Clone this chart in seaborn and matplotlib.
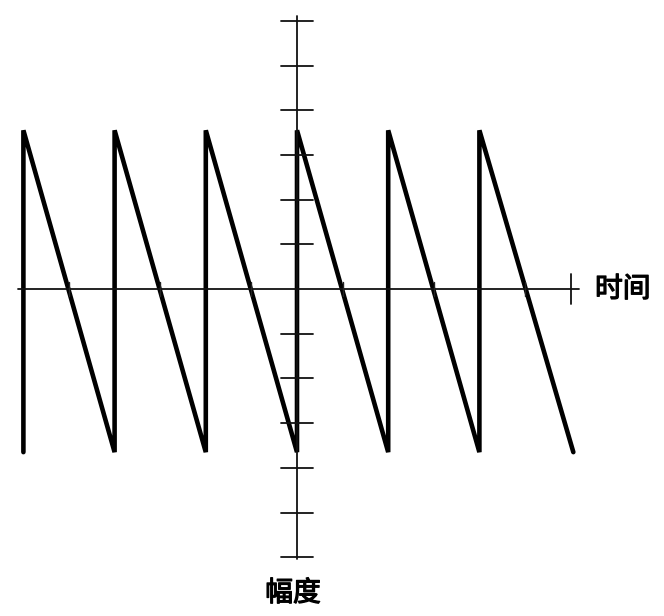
import matplotlib
matplotlib.use("Agg")
import matplotlib.pyplot as plt
import matplotlib.patheffects as pe
import seaborn as sns
import pandas as pd

# Sawtooth vertices (time in periods, amplitude in tick units)
time = [-3, -3, -2, -2, -1, -1, 0, 0, 1, 1, 2, 2, 3.03]
amplitude = [-3.65, 3.55, -3.65, 3.55, -3.65, 3.55, -3.65, 3.55, -3.65, 3.55, -3.65, 3.55, -3.65]

y_ticks = [-6, -5, -4, -3, -2, -1, 1, 2, 3, 4, 5, 6]
x_minor_ticks = [-2.5, -1.5, -0.5, 0.5, 1.5, 2.5]
x_end_tick = 3.0
x_label = "时间"
y_label = "幅度"

sns.set_style("white")
plt.rcParams['font.family'] = ['Noto Sans CJK SC', 'DejaVu Sans']

fig = plt.figure(figsize=(6.64, 6.16), dpi=100)
ax = fig.add_axes([0, 0, 1, 1])

# pixel mapping: px = 297 + 91.2*t ; py = 289 - 44.7*a
sx, sy = 91.2, 44.7
ax.set_xlim(-297 / sx, (664 - 297) / sx)
ax.set_ylim((289 - 616) / sy, 289 / sy)

df = pd.DataFrame({"time": time, "amplitude": amplitude})
sns.lineplot(data=df, x="time", y="amplitude", sort=False, estimator=None,
             color="black", linewidth=3.3, ax=ax, solid_joinstyle="miter")

axis_kw = dict(color="#111111", linewidth=1.3)
# horizontal axis
ax.plot([-3.06, 3.09], [0, 0], **axis_kw)
# vertical axis
ax.plot([0, 0], [-6.05, 6.1], **axis_kw)
# vertical-axis ticks
for a in y_ticks:
    ax.plot([-16 / sx, 16 / sx], [a, a], **axis_kw)
# minor ticks on horizontal axis
for t in x_minor_ticks:
    ax.plot([t, t], [-7 / sy, 7 / sy], color="#222222", linewidth=1.0)
# end tick
ax.plot([x_end_tick, x_end_tick], [-15 / sy, 15 / sy], **axis_kw)

stroke = [pe.withStroke(linewidth=0.9, foreground="black")]
ax.text((595 - 297) / sx, 0, x_label, fontsize=20,
        ha="left", va="center", color="black", path_effects=stroke)
ax.text((293 - 297) / sx, (289 - 593) / sy, y_label, fontsize=20,
        ha="center", va="center", color="black", path_effects=stroke)

ax.set_axis_off()
fig.savefig("out.png", dpi=100)
